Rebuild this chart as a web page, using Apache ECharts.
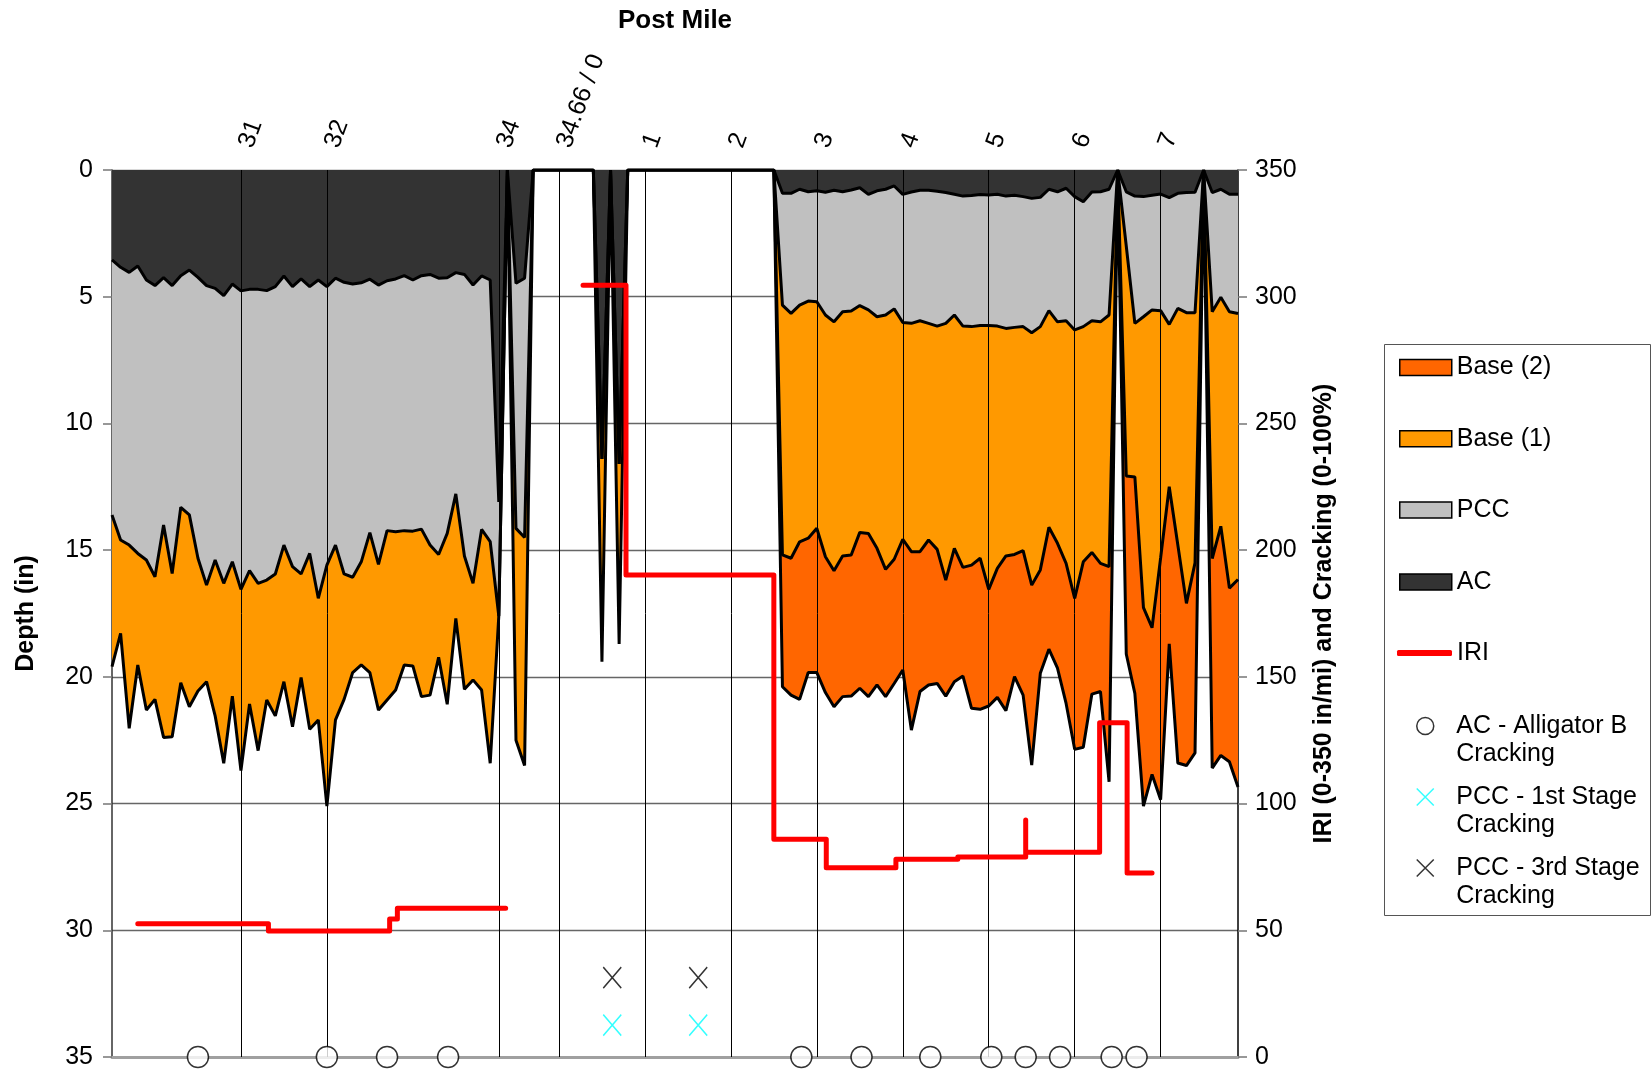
<!DOCTYPE html>
<html>
<head>
<meta charset="utf-8">
<title>Post Mile</title>
<script src="https://cdn.jsdelivr.net/npm/echarts@6/dist/echarts.min.js"></script>
<style>
html, body { margin:0; padding:0; background:#ffffff; }
#chart { width:1652px; height:1073px; }
</style>
</head>
<body>
<div id="chart"></div>
<script>
// ---------------- DATA ----------------
// Layer boundaries are sampled every 0.1 mile along the continuous distance axis
const startMile = 29.5;
const stepMile = 0.1;

// Vertical grid / top labels (continuous distance position -> printed post mile)
const postMilePositions = [31, 32, 34, 34.7, 35.7, 36.7, 37.7, 38.7, 39.7, 40.7, 41.7];
const postMileLabels = ['31', '32', '34', '34.66 / 0', '1', '2', '3', '4', '5', '6', '7'];

// Depth (in) to the bottom of each layer
const acBottom = [
  3.55, 3.84, 4.04, 3.79, 4.34, 4.56, 4.25, 4.56, 4.17, 3.95,
  4.24, 4.56, 4.67, 4.96, 4.50, 4.77, 4.71, 4.71, 4.76, 4.60,
  4.18, 4.60, 4.30, 4.60, 4.34, 4.60, 4.27, 4.43, 4.50, 4.45,
  4.31, 4.54, 4.37, 4.30, 4.17, 4.34, 4.17, 4.12, 4.27, 4.25,
  4.05, 4.12, 4.54, 4.18, 4.34,
  13.1, 0, 4.47, 4.27,
  0, 0, 0, 0, 0, 0, 0, 0,
  11.4, 0, 11.6,
  0, 0, 0, 0, 0, 0, 0, 0, 0, 0, 0, 0, 0, 0, 0, 0, 0, 0,
  0.92, 0.92, 0.76, 0.86, 0.82, 0.88, 0.80, 0.86, 0.79, 0.70,
  0.96, 0.82, 0.76, 0.63, 0.96, 0.87, 0.80, 0.80, 0.84, 0.89,
  0.96, 1.03, 1.01, 0.97, 0.99, 0.96, 1.03, 1.00, 1.05, 1.12,
  1.08, 0.76, 0.86, 0.72, 1.05, 1.25, 0.87, 0.86, 0.76, 0,
  0.86, 1.03, 1.05, 1.00, 0.95, 1.09, 0.92, 0.89, 0.88, 0,
  0.89, 0.76, 0.96, 0.96
];
const pccBottom = [
  13.61, 14.60, 14.80, 15.13, 15.39, 16.05, 14.01, 15.92, 13.31, 13.61,
  15.32, 16.38, 15.39, 16.31, 15.46, 16.55, 15.81, 16.31, 16.18, 15.94,
  14.80, 15.65, 15.94, 15.13, 16.90, 15.59, 14.80, 15.94, 16.07, 15.46,
  14.31, 15.56, 14.23, 14.27, 14.23, 14.25, 14.17, 14.80, 15.17, 14.34,
  12.78, 15.23, 16.31, 14.18, 14.66,
  17.6, 0, 14.14, 14.5,
  0, 0, 0, 0, 0, 0, 0, 0,
  11.4, 0, 11.6,
  0, 0, 0, 0, 0, 0, 0, 0, 0, 0, 0, 0, 0, 0, 0, 0, 0, 0,
  5.33, 5.66, 5.33, 5.17, 5.20, 5.72, 5.99, 5.59, 5.56, 5.35,
  5.52, 5.79, 5.72, 5.48, 6.02, 6.05, 5.95, 6.05, 6.16, 6.05,
  5.72, 6.16, 6.18, 6.14, 6.14, 6.16, 6.25, 6.21, 6.18, 6.42,
  6.18, 5.55, 5.99, 5.95, 6.31, 6.18, 5.95, 5.99, 5.72, 0,
  3.0, 6.05, 5.79, 5.52, 5.55, 6.09, 5.46, 5.63, 5.63, 0,
  5.59, 5.02, 5.59, 5.66
];
const base1Bottom = [
  19.60, 18.28, 22.03, 19.53, 21.31, 20.89, 22.39, 22.36, 20.23, 21.18,
  20.56, 20.19, 21.54, 23.41, 20.76, 23.70, 21.07, 22.91, 20.91, 21.54,
  20.19, 21.97, 20.03, 22.07, 21.70, 25.10, 21.70, 20.89, 19.83, 19.53,
  19.83, 21.31, 20.91, 20.52, 19.53, 19.57, 20.78, 20.72, 19.23, 21.08,
  17.69, 20.49, 20.12, 20.52, 23.41,
  17.6, 0, 22.5, 23.5,
  0, 0, 0, 0, 0, 0, 0, 0,
  19.4, 0, 18.7,
  0, 0, 0, 0, 0, 0, 0, 0, 0, 0, 0, 0, 0, 0, 0, 0, 0, 0,
  15.19, 15.32, 14.67, 14.53, 14.14, 15.26, 15.81, 15.23, 15.19, 14.30,
  14.34, 14.93, 15.76, 15.36, 14.57, 15.06, 15.06, 14.60, 14.97, 16.18,
  14.93, 15.68, 15.59, 15.32, 16.55, 15.72, 15.23, 15.17, 15.02, 16.38,
  15.78, 14.10, 14.73, 15.52, 16.90, 15.46, 15.09, 15.52, 15.65, 0,
  12.07, 12.11, 17.27, 18.06, 15.3, 12.5, 14.8, 17.1, 15.5, 0,
  15.33, 14.06, 16.5, 16.16
];
const base2Bottom = [
  null, null, null, null, null, null, null, null, null, null,
  null, null, null, null, null, null, null, null, null, null,
  null, null, null, null, null, null, null, null, null, null,
  null, null, null, null, null, null, null, null, null, null,
  null, null, null, null, null, null, null, null, null, null,
  null, null, null, null, null, null, null, null, null, null,
  null, null, null, null, null, null, null, null, null, null,
  null, null, null, null, null, null, null, 0,
  20.39, 20.72, 20.89, 19.83, 19.83, 20.62, 21.18, 20.78, 20.76, 20.45,
  20.78, 20.32, 20.78, 20.26, 19.73, 22.10, 20.58, 20.32, 20.26, 20.76,
  20.19, 19.97, 21.24, 21.28, 21.15, 20.81, 21.33, 19.99, 20.72, 23.48,
  19.86, 18.91, 19.66, 21.05, 22.86, 22.78, 20.68, 20.58, 24.14, 0,
  19.1, 20.65, 25.1, 23.85, 24.85, 18.7, 23.4, 23.5, 23.0, 0,
  23.6, 23.1, 23.35, 24.35
];

// IRI (in/mi) step segments
const iriFrom  = [29.80, 31.32, 32.73, 32.82, 34.98, 35.48, 37.20, 37.81, 38.62, 39.34, 40.13, 40.13, 40.99, 41.31];
const iriTo    = [31.32, 32.73, 32.82, 34.08, 35.48, 37.20, 37.81, 38.62, 39.34, 40.13, 40.13, 40.99, 41.31, 41.60];
const iriValue = [52.6, 49.7, 54.5, 58.7, 304.5, 190.2, 85.9, 74.7, 78.0, 78.9, 93.5, 80.8, 131.9, 72.6];

// Distress markers (position along axis, value on right axis)
const alligatorMiles = [30.50, 32.00, 32.70, 33.41, 37.52, 38.22, 39.02, 39.73, 40.13, 40.53, 41.13, 41.42];
const alligatorLevel = [0, 0, 0, 0, 0, 0, 0, 0, 0, 0, 0, 0];
const pcc1Miles = [35.32, 36.32];
const pcc1Level = [12.6, 12.6];
const pcc3Miles = [35.32, 36.32];
const pcc3Level = [31.3, 31.3];

// ---------------- BUILD ----------------
const FONT = '"Liberation Sans", Arial, Helvetica, sans-serif';
const C_BASE2 = '#FF6600', C_BASE1 = '#FF9900', C_PCC = '#C0C0C0', C_AC = '#333333';
const X_PATH = 'path://M0,0L20,20M20,0L0,20';

const miles = acBottom.map((_, i) => Math.round((startMile + i * stepMile) * 100) / 100);
const toPairs = arr => arr.map((v, i) => [miles[i], v === null ? '-' : v]);

const iriPoints = [];
for (let i = 0; i < iriValue.length; i++) {
  if (i > 0 && iriFrom[i] - iriTo[i - 1] > 0.3) iriPoints.push([(iriFrom[i] + iriTo[i - 1]) / 2, '-']);
  iriPoints.push([iriFrom[i], iriValue[i]], [iriTo[i], iriValue[i]]);
}
const zipPts = (xs, ys) => xs.map((x, i) => [x, ys[i]]);

function postMileLabel(v) {
  const i = postMilePositions.findIndex(p => Math.abs(p - v) < 1e-6);
  return i >= 0 ? postMileLabels[i] : '';
}

const layerDefs = [
  { name: 'Base (2)', data: base2Bottom, color: C_BASE2 },
  { name: 'Base (1)', data: base1Bottom, color: C_BASE1 },
  { name: 'PCC', data: pccBottom, color: C_PCC },
  { name: 'AC', data: acBottom, color: C_AC }
];
const layerSeries = layerDefs.map(d => ({
  name: d.name, type: 'line', xAxisIndex: 0, yAxisIndex: 0,
  data: toPairs(d.data), symbol: 'none', showSymbol: false, color: d.color,
  lineStyle: { color: '#000000', width: 3 },
  areaStyle: { color: d.color, opacity: 1, origin: 'start' },
  z: 2, silent: true, connectNulls: false
}));

const textBase = { fontFamily: FONT, fontSize: 25, color: '#000000' };
const legendCommon = {
  orient: 'vertical', left: 1399, padding: 0, itemGap: 0, itemWidth: 52, itemHeight: 16,
  selectedMode: false, symbolKeepAspect: true,
  textStyle: Object.assign({}, textBase, { lineHeight: 28 })
};
// leading blank line keeps the first text line level with the icon
const twoLine = {
  'AC - Alligator B Cracking': '\nAC - Alligator B\nCracking',
  'PCC - 1st Stage Cracking': '\nPCC - 1st Stage\nCracking',
  'PCC - 3rd Stage Cracking': '\nPCC - 3rd Stage\nCracking'
};
const legends = [
  Object.assign({}, legendCommon, { top: 353.5, data: ['Base (2)'], icon: 'rect', itemStyle: { color: C_BASE2, borderColor: '#000', borderWidth: 1.5 } }),
  Object.assign({}, legendCommon, { top: 424.7, data: ['Base (1)'], icon: 'rect', itemStyle: { color: C_BASE1, borderColor: '#000', borderWidth: 1.5 } }),
  Object.assign({}, legendCommon, { top: 496, data: ['PCC'], icon: 'rect', itemStyle: { color: C_PCC, borderColor: '#000', borderWidth: 1.5 } }),
  Object.assign({}, legendCommon, { top: 568, data: ['AC'], icon: 'rect', itemStyle: { color: C_AC, borderColor: '#000', borderWidth: 1.5 } }),
  Object.assign({}, legendCommon, { top: 639, left: 1397, itemWidth: 55, itemHeight: 6, data: ['IRI'], icon: 'roundRect', itemStyle: { color: '#FF0000', borderWidth: 0 } }),
  Object.assign({}, legendCommon, { top: 684, left: 1416, itemHeight: 17, data: ['AC - Alligator B Cracking'], icon: 'circle',
    itemStyle: { color: '#ffffff', borderColor: '#000', borderWidth: 1.5 }, formatter: n => twoLine[n] }),
  Object.assign({}, legendCommon, { top: 755, left: 1416, itemHeight: 17, data: ['PCC - 1st Stage Cracking'], icon: X_PATH,
    itemStyle: { color: 'rgba(0,0,0,0)', borderColor: '#00FFFF', borderWidth: 1.5 }, formatter: n => twoLine[n] }),
  Object.assign({}, legendCommon, { top: 826, left: 1416, itemHeight: 17, data: ['PCC - 3rd Stage Cracking'], icon: X_PATH,
    itemStyle: { color: 'rgba(0,0,0,0)', borderColor: '#000000', borderWidth: 1.5 }, formatter: n => twoLine[n] })
];

const option = {
  animation: false,
  backgroundColor: '#ffffff',
  title: {
    text: 'Post Mile', left: 670, top: 3, textAlign: 'center',
    textStyle: Object.assign({}, textBase, { fontSize: 26, fontWeight: 'bold' })
  },
  grid: { left: 112, top: 170, width: 1126, height: 887, containLabel: false, outerBoundsMode: 'none' },
  graphic: [{
    type: 'rect', left: 1384, top: 344, z: 1, silent: true,
    shape: { width: 266, height: 571 },
    style: { fill: '#ffffff', stroke: '#555555', lineWidth: 1 }
  }],
  legend: legends,
  xAxis: [
    {
      type: 'value', min: 29.5, max: 42.6, position: 'bottom',
      axisLine: { show: true, onZero: false, lineStyle: { color: '#a0a0a0', width: 3 } },
      axisTick: { show: false }, axisLabel: { show: false }, splitLine: { show: false }
    },
    {
      type: 'value', min: 29.5, max: 42.6, position: 'top',
      axisLine: { show: true, onZero: false, lineStyle: { color: '#888888', width: 1 } },
      axisTick: { show: false }, splitLine: { show: false },
      axisLabel: Object.assign({}, textBase, {
        customValues: postMilePositions, formatter: postMileLabel, rotate: -70, margin: 25,
        verticalAlign: 'top', lineHeight: 11
      })
    }
  ],
  yAxis: [
    {
      type: 'value', inverse: true, min: 0, max: 35, interval: 5, position: 'left',
      name: 'Depth (in)', nameLocation: 'middle', nameGap: 73, nameRotate: 90,
      nameTextStyle: Object.assign({}, textBase, { fontWeight: 'bold' }),
      axisLine: { show: true, onZero: false, lineStyle: { color: '#333333', width: 1.5 } },
      axisTick: { show: true, length: 9, lineStyle: { color: '#777777', width: 1.5 } },
      axisLabel: Object.assign({}, textBase, { margin: 19 }),
      splitLine: { show: true, lineStyle: { color: '#666666', width: 1.3 } }
    },
    {
      type: 'value', min: 0, max: 350, interval: 50, position: 'right',
      name: 'IRI (0-350 in/mi) and Cracking (0-100%)', nameLocation: 'middle', nameGap: 74, nameRotate: 90,
      nameTextStyle: Object.assign({}, textBase, { fontWeight: 'bold' }),
      axisLine: { show: true, onZero: false, lineStyle: { color: '#000000', width: 1.5 } },
      axisTick: { show: true, length: 9, lineStyle: { color: '#777777', width: 1.5 } },
      axisLabel: Object.assign({}, textBase, { margin: 17 }),
      splitLine: { show: false }
    }
  ],
  series: layerSeries.concat([
    {
      name: 'gridlines', type: 'line', xAxisIndex: 0, yAxisIndex: 0, data: [], silent: true,
      markLine: {
        silent: true, symbol: ['none', 'none'], animation: false,
        label: { show: false },
        lineStyle: { color: '#000000', width: 1, type: 'solid' },
        emphasis: { disabled: true },
        data: postMilePositions.map(p => ({ xAxis: p }))
      }
    },
    {
      name: 'IRI', type: 'line', xAxisIndex: 0, yAxisIndex: 1, data: iriPoints,
      symbol: 'none', showSymbol: false, color: '#FF0000',
      lineStyle: { color: '#FF0000', width: 5, cap: 'round', join: 'round' },
      z: 6, silent: true, connectNulls: false
    },
    {
      name: 'AC - Alligator B Cracking', type: 'scatter', xAxisIndex: 0, yAxisIndex: 1,
      data: zipPts(alligatorMiles, alligatorLevel), symbol: 'circle', symbolSize: 21, clip: false,
      itemStyle: { color: '#ffffff', borderColor: '#000000', borderWidth: 1.5 }, z: 7, silent: true
    },
    {
      name: 'PCC - 1st Stage Cracking', type: 'scatter', xAxisIndex: 0, yAxisIndex: 1,
      data: zipPts(pcc1Miles, pcc1Level), symbol: X_PATH, symbolSize: [18, 21], clip: false,
      itemStyle: { color: 'rgba(0,0,0,0)', borderColor: '#00FFFF', borderWidth: 1.5 }, z: 7, silent: true
    },
    {
      name: 'PCC - 3rd Stage Cracking', type: 'scatter', xAxisIndex: 0, yAxisIndex: 1,
      data: zipPts(pcc3Miles, pcc3Level), symbol: X_PATH, symbolSize: [18, 21], clip: false,
      itemStyle: { color: 'rgba(0,0,0,0)', borderColor: '#000000', borderWidth: 1.5 }, z: 7, silent: true
    }
  ])
};

const chart = echarts.init(document.getElementById('chart'), null, { renderer: 'canvas' });
chart.setOption(option);
</script>
</body>
</html>
